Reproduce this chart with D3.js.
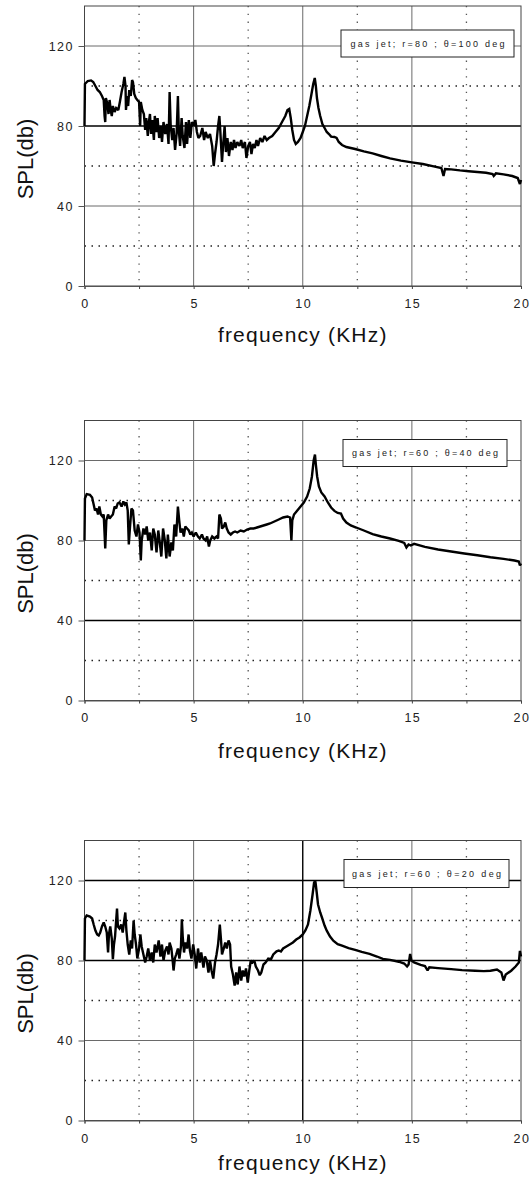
<!DOCTYPE html>
<html>
<head>
<meta charset="utf-8">
<script src="https://cdn.jsdelivr.net/npm/d3@7/dist/d3.min.js"></script>
<style>
  html, body { margin: 0; padding: 0; background: #fff; }
  svg { display: block; }
</style>
</head>
<body>
<div id="chart"></div>
<script>
// --- data (frequency in kHz, SPL in dB) ---
const freq100 = [0, 0.02, 0.15, 0.3, 0.4, 0.5, 0.6, 0.7, 0.8, 0.88, 0.92, 0.95, 0.98, 1.05, 1.1, 1.15, 1.2, 1.25, 1.3, 1.38,
  1.45, 1.55, 1.62, 1.7, 1.78, 1.83, 1.88, 1.9, 1.95, 2.0, 2.05, 2.12, 2.18, 2.22, 2.28, 2.35, 2.42, 2.5, 2.55, 2.58,
  2.65, 2.72, 2.78, 2.83, 2.9, 2.95, 3.0, 3.05, 3.1, 3.18, 3.22, 3.3, 3.35, 3.42, 3.5, 3.55, 3.62, 3.7, 3.78, 3.85,
  3.9, 3.95, 4.02, 4.08, 4.15, 4.22, 4.28, 4.32, 4.38, 4.45, 4.5, 4.58, 4.65, 4.7, 4.78, 4.85, 4.92, 5.0, 5.08, 5.15,
  5.22, 5.3, 5.4, 5.48, 5.55, 5.65, 5.75, 5.85, 5.92, 5.98, 6.05, 6.12, 6.18, 6.22, 6.3, 6.35, 6.42, 6.48, 6.55, 6.62,
  6.7, 6.78, 6.85, 6.92, 7.0, 7.1, 7.18, 7.25, 7.35, 7.42, 7.5, 7.58, 7.65, 7.72, 7.8, 7.88, 7.95, 8.05, 8.15, 8.25,
  8.35, 8.45, 8.6, 8.75, 8.9, 9.05, 9.2, 9.3, 9.38, 9.45, 9.52, 9.6, 9.68, 9.78, 9.9, 10.0, 10.1, 10.2, 10.3, 10.4,
  10.48, 10.55, 10.6, 10.65, 10.72, 10.8, 10.9, 11.0, 11.1, 11.2, 11.3, 11.45, 11.55, 11.65, 11.8, 12.0, 12.4, 12.8, 13.2, 13.6,
  14.0, 14.5, 15.0, 15.5, 16.0, 16.35, 16.45, 16.52, 16.8, 17.2, 17.6, 18.0, 18.4, 18.7, 18.75, 18.85, 19.2, 19.6, 19.85, 19.95,
  20.0];
const spl100 = [80, 101, 102.5, 102.8, 102, 100, 98, 97, 95, 93, 85, 82, 94, 91, 86, 93, 88, 85, 90, 87,
  89, 88, 92, 97, 101, 104.5, 100, 88, 95, 90, 98, 95, 103, 102, 96, 94, 93, 92, 80, 92,
  88, 86, 78, 84, 75, 82, 86, 76, 83, 73, 85, 77, 84, 74, 80, 72, 82, 76, 81, 71,
  97, 80, 73, 79, 68, 76, 95, 78, 70, 84, 75, 69, 82, 71, 83, 74, 82, 80, 83, 77,
  74, 75, 79, 73, 77, 74, 76, 70, 60, 66, 72, 80, 85, 78, 62, 70, 80, 67, 74, 65,
  72, 68, 73, 69, 72, 70, 73, 69, 72, 64, 70, 72, 66, 71, 69, 73, 70, 74, 72, 75,
  73, 74, 75, 77, 79, 82, 85, 88, 88.5, 84, 78, 73, 71, 72, 74, 77, 80, 85, 90, 96,
  101, 104, 100, 94, 89, 85, 81, 79, 77, 76, 74.7, 74.5, 74, 72, 70.5, 69.5, 68.5, 67.3, 66.3, 65,
  63.8, 62.7, 61.8, 61, 59.8, 59, 55, 58.5, 58.3, 57.8, 57.4, 57, 56.6, 56, 55, 56.3, 55.8, 55, 54, 51,
  53];

const freq40 = [0, 0.02, 0.1, 0.25, 0.35, 0.42, 0.48, 0.55, 0.62, 0.68, 0.75, 0.82, 0.88, 0.95, 1.0, 1.08, 1.15, 1.22, 1.3, 1.38,
  1.45, 1.52, 1.6, 1.7, 1.78, 1.85, 1.92, 1.98, 2.03, 2.08, 2.15, 2.22, 2.3, 2.38, 2.45, 2.52, 2.58, 2.62, 2.7, 2.78,
  2.85, 2.92, 3.0, 3.08, 3.15, 3.22, 3.3, 3.38, 3.45, 3.52, 3.6, 3.68, 3.75, 3.82, 3.9, 3.98, 4.05, 4.12, 4.2, 4.28,
  4.34, 4.4, 4.48, 4.55, 4.62, 4.7, 4.78, 4.85, 4.92, 5.0, 5.1, 5.2, 5.28, 5.38, 5.45, 5.55, 5.62, 5.7, 5.76, 5.85,
  5.95, 6.05, 6.12, 6.18, 6.25, 6.3, 6.38, 6.45, 6.52, 6.6, 6.7, 6.8, 6.9, 7.0, 7.15, 7.3, 7.45, 7.6, 7.75, 7.9,
  8.05, 8.2, 8.35, 8.5, 8.7, 8.9, 9.1, 9.3, 9.42, 9.48, 9.52, 9.6, 9.75, 9.9, 10.05, 10.2, 10.32, 10.42, 10.5, 10.56,
  10.6, 10.66, 10.74, 10.85, 11.0, 11.15, 11.3, 11.45, 11.6, 11.75, 11.85, 12.0, 12.2, 12.45, 12.8, 13.2, 13.6, 14.0, 14.4, 14.65,
  14.75, 14.85, 14.95, 15.1, 15.6, 16.2, 16.8, 17.4, 18.0, 18.6, 19.2, 19.7, 19.9, 19.95, 20.0];
const spl40 = [80, 101, 103.2, 102.8, 101.5, 98, 95, 96, 93, 97, 93, 92, 93, 76, 90, 93, 91, 92, 93, 97,
  96, 98.5, 99, 97, 99.5, 98, 99, 95, 78, 86, 96, 95, 85, 82, 88, 84, 70, 80, 86, 83,
  87, 80, 84, 75, 86, 83, 74, 85, 79, 72, 86, 80, 71, 83, 72, 79, 75, 88, 82, 97,
  90, 84, 86, 82, 87, 86, 85, 83, 84, 82, 84, 82, 81, 83, 81, 80, 82, 77, 80, 82,
  81, 82, 81, 93, 91, 86, 87, 89, 86, 84, 83, 84, 84.5, 84, 85, 84.5, 85.5, 86, 86, 86.5,
  87, 87.5, 88, 88.5, 89.5, 90.5, 91.5, 92, 91.5, 80, 90, 93, 95, 97, 99, 102, 106, 112, 120, 123,
  118, 112, 107, 104, 102, 99, 96.5, 94.8, 93.8, 93.5, 91, 89, 87.5, 86.5, 85, 83.2, 82, 81, 79.8, 78.8,
  76.5, 78, 77.5, 78.3, 76.8, 75.5, 74.5, 73.5, 72.6, 71.6, 70.8, 70, 69.5, 67.5, 68.5];

const freq20 = [0, 0.02, 0.1, 0.25, 0.35, 0.42, 0.5, 0.58, 0.65, 0.72, 0.8, 0.88, 0.95, 1.02, 1.08, 1.12, 1.18, 1.25, 1.3, 1.35,
  1.4, 1.45, 1.49, 1.53, 1.6, 1.68, 1.75, 1.82, 1.87, 1.92, 1.98, 2.05, 2.12, 2.18, 2.25, 2.3, 2.36, 2.42, 2.5, 2.56,
  2.62, 2.7, 2.78, 2.85, 2.92, 3.0, 3.08, 3.15, 3.22, 3.3, 3.4, 3.48, 3.55, 3.62, 3.7, 3.78, 3.85, 3.9, 3.98, 4.04,
  4.08, 4.14, 4.2, 4.28, 4.35, 4.42, 4.46, 4.5, 4.56, 4.62, 4.7, 4.77, 4.83, 4.9, 4.98, 5.05, 5.12, 5.2, 5.28, 5.35,
  5.45, 5.52, 5.6, 5.68, 5.75, 5.82, 5.9, 5.98, 6.05, 6.12, 6.2, 6.25, 6.3, 6.38, 6.45, 6.52, 6.6, 6.67, 6.72, 6.8,
  6.88, 6.95, 7.02, 7.1, 7.18, 7.25, 7.32, 7.4, 7.48, 7.55, 7.62, 7.7, 7.78, 7.85, 7.95, 8.03, 8.1, 8.2, 8.3, 8.42,
  8.55, 8.65, 8.8, 8.9, 9.0, 9.1, 9.25, 9.4, 9.55, 9.7, 9.85, 10.0, 10.12, 10.24, 10.35, 10.45, 10.52, 10.58, 10.64, 10.7,
  10.8, 10.88, 11.0, 11.1, 11.25, 11.4, 11.6, 11.8, 12.1, 12.4, 12.7, 13.06, 13.4, 13.67, 14.0, 14.4, 14.65, 14.78, 14.85, 14.92,
  14.98, 15.1, 15.4, 15.6, 15.72, 15.8, 16.2, 16.8, 17.3, 17.9, 18.3, 18.6, 18.9, 19.1, 19.2, 19.3, 19.55, 19.75, 19.9, 19.95,
  20.0];
const spl20 = [80, 101, 102.5, 102, 101, 98, 95, 93, 92.5, 94, 97, 99, 97, 94, 84, 93, 97, 91, 80.7, 88,
  92, 100, 106, 97, 96, 98, 94, 100, 104, 95, 88, 83, 90, 86, 100, 93, 88, 81, 86, 93,
  87, 83, 79, 82, 86, 80, 84, 79, 88, 84, 90, 82, 88, 80, 85, 87, 83, 89, 86, 80,
  75, 81, 83, 86, 81, 87, 100.6, 92, 84, 89, 86, 93, 85, 81, 88, 83, 76, 86, 79, 84,
  76.5, 82, 80, 74, 80, 75, 71, 79, 83, 88, 98, 91, 83, 86, 89, 86, 90, 88, 77, 73,
  67.5, 74, 68, 77, 70, 75, 72, 76, 69, 75, 80, 79, 80, 77, 75, 72.6, 74, 78, 79, 81,
  80.7, 83, 84.6, 85, 84.5, 86, 87, 88, 89, 90.5, 91.5, 93, 95, 98, 105, 113, 119, 119.5, 114, 108,
  104, 101.5, 97.5, 94.9, 92, 89.9, 88.2, 87.4, 86.2, 85.3, 84.3, 83.3, 82, 80.8, 80.3, 79.4, 78.5, 77, 78, 83.3,
  80, 79, 77.8, 77.2, 75, 76.6, 76.2, 75.7, 75.2, 74.9, 74.7, 74.9, 75.5, 74, 70, 73, 74.9, 77, 79, 84.8,
  82];

const legendLabels = ['gas jet; r=80 ; θ=100 deg', 'gas jet; r=60 ; θ=40 deg', 'gas jet; r=60 ; θ=20 deg'];
const xMajor = [0, 5, 10, 15, 20];
const xMinor = [2.5, 7.5, 12.5, 17.5];
const yMajor = [0, 40, 80, 120];
const yMinor = [20, 60, 100];
const xTitle = 'frequency (KHz)';
const yTitle = 'SPL(db)';

// --- layout of the three panels ---
const W = 532, H = 1180;
const left = 84.5, right = 521, plotH = 280;
const panels = [
  { freq: freq100, spl: spl100, top: 6,   tickDy: 17, titleDy: 49, legend: { x: 341, y: 24, w: 173, h: 27, tw: 154 }, darkX: [], darkY: [80] },
  { freq: freq40,  spl: spl40,  top: 420.5, tickDy: 17, titleDy: 50, legend: { x: 343, y: 19, w: 164, h: 27, tw: 146 }, darkX: [], darkY: [40] },
  { freq: freq20,  spl: spl20,  top: 840.5, tickDy: 18, titleDy: 42, legend: { x: 344, y: 19, w: 165, h: 28, tw: 149 }, darkX: [10], darkY: [80, 120] },
];

const svg = d3.select('#chart').append('svg')
  .attr('width', W)
  .attr('height', H)
  .attr('viewBox', [0, 0, W, H])
  .style('font-family', "'Liberation Sans', Arial, sans-serif");

svg.append('rect').attr('width', W).attr('height', H).attr('fill', '#fff');

const x = d3.scaleLinear().domain([0, 20]).range([left, right]);

panels.forEach((p, i) => {
  const y = d3.scaleLinear().domain([0, 140]).range([p.top + plotH, p.top]);
  const g = svg.append('g');

  // dotted minor grid
  g.append('g').selectAll('line')
    .data(yMinor)
    .join('line')
    .attr('x1', left).attr('x2', right)
    .attr('y1', d => y(d)).attr('y2', d => y(d))
    .attr('stroke', '#222')
    .attr('stroke-width', 1.5)
    .attr('stroke-dasharray', '1.5,5.5');

  g.append('g').selectAll('line')
    .data(xMinor)
    .join('line')
    .attr('x1', d => x(d)).attr('x2', d => x(d))
    .attr('y1', p.top).attr('y2', p.top + plotH)
    .attr('stroke', '#555')
    .attr('stroke-width', 1.3)
    .attr('stroke-dasharray', '1.3,6.5');

  // solid major grid
  g.append('g').selectAll('line')
    .data(yMajor.slice(1))
    .join('line')
    .attr('x1', left).attr('x2', right)
    .attr('y1', d => y(d)).attr('y2', d => y(d))
    .attr('stroke', d => p.darkY.includes(d) ? '#000' : '#6a6a6a')
    .attr('stroke-width', d => p.darkY.includes(d) ? 1.4 : 1);

  g.append('g').selectAll('line')
    .data(xMajor.slice(1, -1))
    .join('line')
    .attr('x1', d => x(d)).attr('x2', d => x(d))
    .attr('y1', p.top).attr('y2', p.top + plotH)
    .attr('stroke', d => p.darkX.includes(d) ? '#000' : '#6a6a6a')
    .attr('stroke-width', d => p.darkX.includes(d) ? 1.4 : 1);

  // frame
  g.append('rect')
    .attr('x', left).attr('y', p.top)
    .attr('width', right - left).attr('height', plotH)
    .attr('fill', 'none')
    .attr('stroke', '#444')
    .attr('stroke-width', 1);

  // axes with small ticks
  const xAxis = d3.axisBottom(x)
    .tickValues(xMajor.concat(xMinor))
    .tickSize(3)
    .tickFormat('');
  g.append('g')
    .attr('transform', `translate(0,${p.top + plotH})`)
    .call(xAxis)
    .call(s => s.select('.domain').attr('stroke', '#555'))
    .call(s => s.selectAll('.tick line').attr('stroke', '#444'));

  const yAxis = d3.axisLeft(y).tickValues(yMajor).tickSize(6).tickFormat('');
  g.append('g')
    .attr('transform', `translate(${left},0)`)
    .call(yAxis)
    .call(s => s.select('.domain').remove())
    .call(s => s.selectAll('.tick line').attr('stroke', '#555'));

  // tick labels
  g.append('g').selectAll('text')
    .data(yMajor)
    .join('text')
    .attr('x', 74)
    .attr('y', d => y(d))
    .attr('dy', '0.36em')
    .attr('text-anchor', 'end')
    .attr('font-size', 12.5)
    .attr('letter-spacing', 1.5)
    .attr('fill', '#222')
    .text(d => d);

  g.append('g').selectAll('text')
    .data(xMajor)
    .join('text')
    .attr('x', d => x(d) + 1)
    .attr('y', p.top + plotH + p.tickDy)
    .attr('dy', '0.36em')
    .attr('text-anchor', 'middle')
    .attr('font-size', 12.5)
    .attr('letter-spacing', 1.5)
    .attr('fill', '#222')
    .text(d => d);

  // axis titles
  g.append('text')
    .attr('x', (left + right) / 2)
    .attr('y', p.top + plotH + p.titleDy)
    .attr('dy', '0.35em')
    .attr('text-anchor', 'middle')
    .attr('font-size', 21)
    .attr('letter-spacing', 1.2)
    .attr('fill', '#111')
    .text(xTitle);

  g.append('text')
    .attr('transform', `translate(25,${p.top + plotH / 2 + 13}) rotate(-90)`)
    .attr('dy', '0.35em')
    .attr('text-anchor', 'middle')
    .attr('font-size', 22)
    .attr('fill', '#111')
    .text(yTitle);

  // spectrum
  const pts = p.freq.map((f, k) => [f, p.spl[k]]);
  const line = d3.line().x(d => x(d[0])).y(d => y(d[1]));
  g.append('path')
    .datum(pts)
    .attr('d', line)
    .attr('fill', 'none')
    .attr('stroke', '#000')
    .attr('stroke-width', 2.4)
    .attr('stroke-linejoin', 'miter')
    .attr('stroke-miterlimit', 2);

  // legend box
  const lg = p.legend;
  g.append('rect')
    .attr('x', lg.x).attr('y', p.top + lg.y)
    .attr('width', lg.w).attr('height', lg.h)
    .attr('fill', '#fff')
    .attr('stroke', '#222')
    .attr('stroke-width', 1);
  g.append('text')
    .attr('x', lg.x + (lg.w - lg.tw) / 2)
    .attr('y', p.top + lg.y + lg.h / 2)
    .attr('dy', '0.35em')
    .attr('font-size', 9)
    .attr('textLength', lg.tw)
    .attr('lengthAdjust', 'spacing')
    .attr('fill', '#222')
    .text(legendLabels[i]);
});
</script>
</body>
</html>
